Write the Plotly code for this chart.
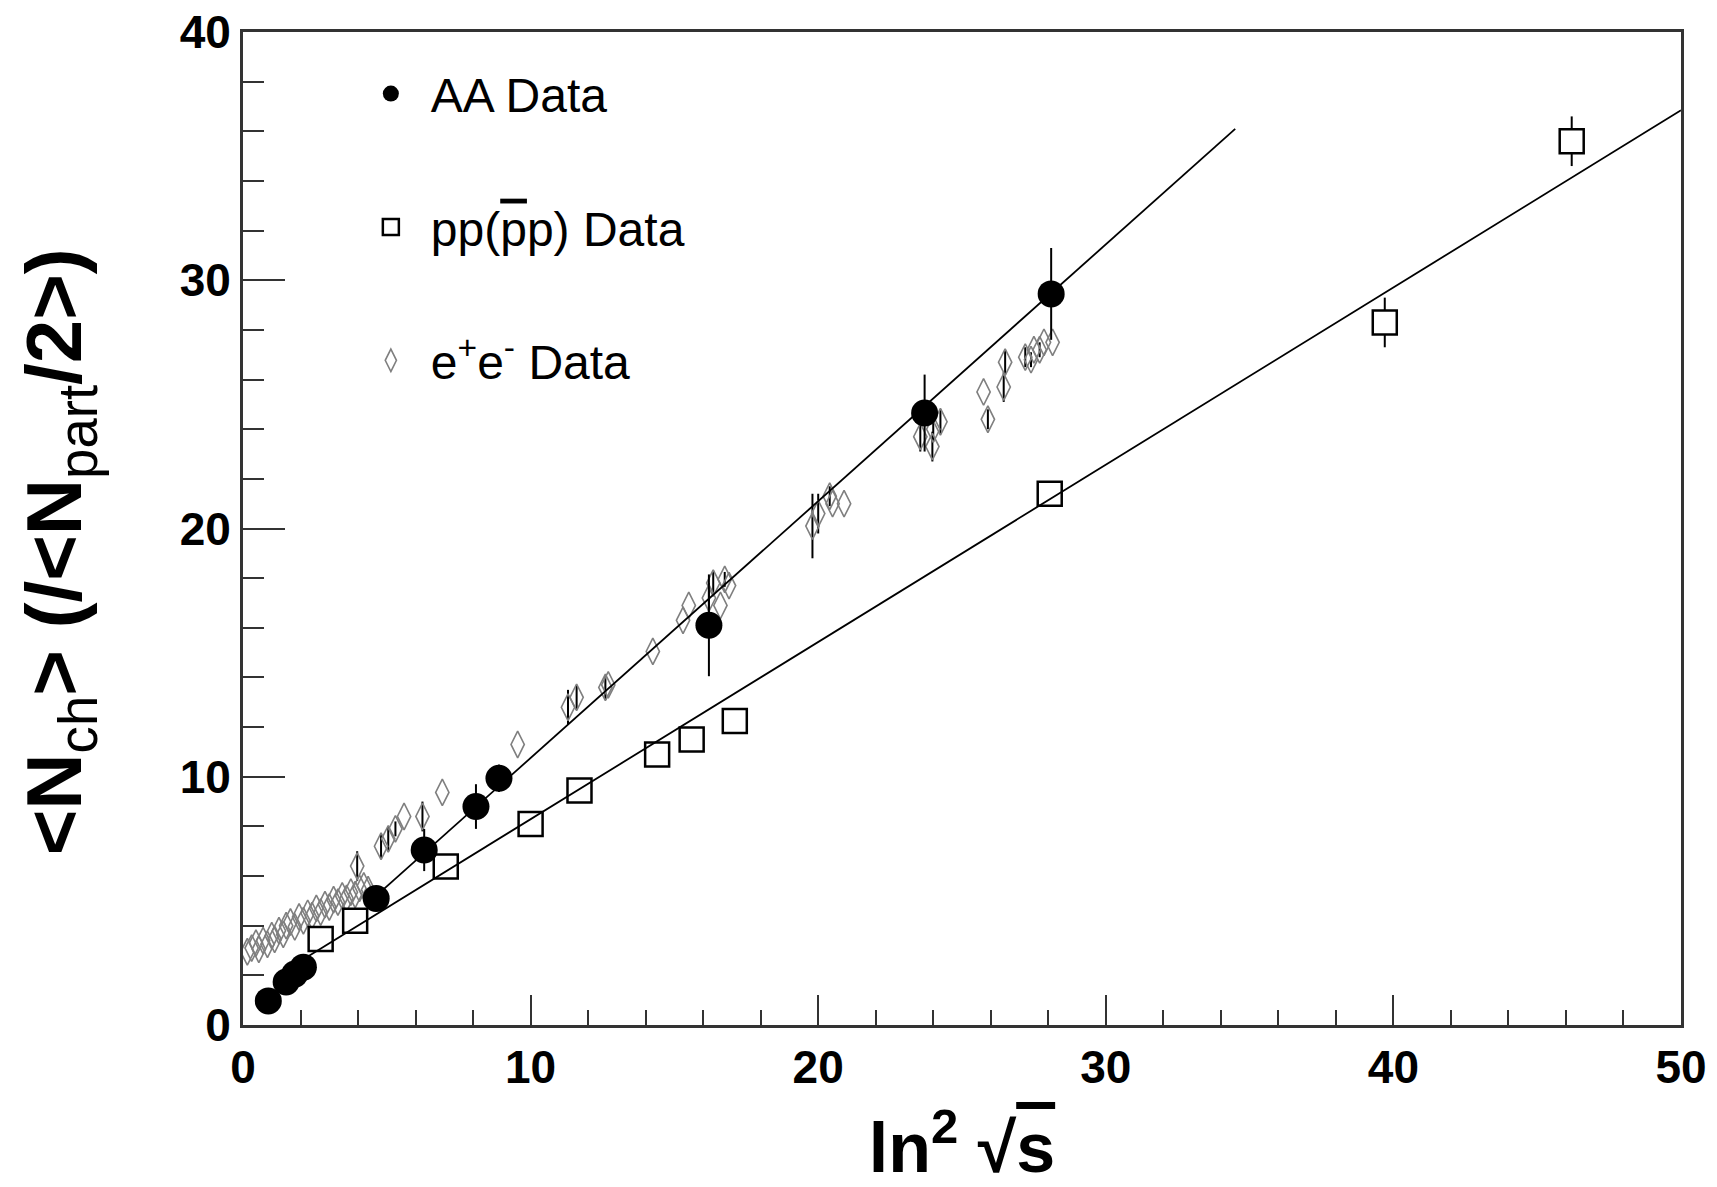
import plotly.graph_objects as go

# ---- AA data ----
aa_x = [0.88, 1.5, 1.8, 2.1, 4.63, 6.3, 8.1, 8.9, 16.2, 23.7, 28.1]
aa_y = [0.97, 1.73, 2.05, 2.33, 5.1, 7.05, 8.8, 9.94, 16.1, 24.65, 29.45]
aa_err = [0.0, 0.0, 0.0, 0.0, 0.3, 0.85, 0.9, 0.55, 2.05, 1.55, 1.85]

# ---- pp(ppbar) data ----
pp_x = [2.7, 3.9, 7.05, 10.0, 11.7, 14.4, 15.6, 17.1, 28.05, 39.7, 46.2]
pp_y = [3.46, 4.2, 6.38, 8.1, 9.45, 10.9, 11.5, 12.25, 21.4, 28.3, 35.6]
pp_err = [0.0, 0.0, 0.0, 0.0, 0.0, 0.0, 0.0, 0.0, 0.0, 1.0, 1.0]

# ---- e+e- data ----
ee_x = [0.15, 0.3, 0.45, 0.55, 0.7, 0.85, 1.0, 1.1, 1.25, 1.4, 1.5, 1.65, 1.8, 1.95,
        2.1, 2.25, 2.4, 2.55, 2.7, 2.85, 3.0, 3.15, 3.3, 3.45, 3.6, 3.75, 3.9, 4.05,
        4.2, 4.35, 3.97, 4.8, 5.05, 5.3, 5.6, 6.24, 6.93, 9.55, 11.3, 11.6, 12.6, 12.7,
        14.25, 15.3, 15.5, 16.2, 16.35, 16.6, 16.75, 16.9, 19.8, 20.0, 20.4, 20.5, 20.9,
        23.55, 23.97, 24.0, 24.25, 25.75, 25.9, 26.45, 26.5, 27.2, 27.4, 27.5, 27.7,
        27.85, 28.15]
ee_y = [2.95, 3.1, 3.3, 3.05, 3.4, 3.25, 3.6, 3.45, 3.8, 3.65, 4.0, 4.15, 3.95, 4.35,
        4.2, 4.5, 4.4, 4.7, 4.55, 4.85, 4.75, 5.05, 4.95, 5.2, 5.1, 5.35, 5.25, 5.5,
        5.6, 5.45, 6.4, 7.2, 7.5, 7.9, 8.4, 8.4, 9.37, 11.3, 12.8, 13.2, 13.6, 13.7,
        15.05, 16.3, 16.9, 17.2, 17.8, 16.9, 17.95, 17.7, 20.1, 20.6, 21.3, 21.0, 21.0,
        23.7, 23.3, 24.0, 24.3, 25.5, 24.4, 25.7, 26.7, 26.9, 26.8, 27.2, 27.2,
        27.5, 27.5]
ee_err = [0.0] * 30 + [0.6, 0.5, 0.5, 0.3, 0.0, 0.6, 0.0, 0.0, 0.7, 0.5, 0.5, 0.0,
        0.0, 0.0, 0.0, 0.6, 0.5, 0.0, 0.3, 0.0, 1.3, 0.8, 0.4, 0.0, 0.0,
        0.6, 0.6, 0.5, 0.5, 0.0, 0.4, 0.6, 0.5, 0.4, 0.3, 0.0, 0.3,
        0.0, 0.0]

# ---- linear fits ----
aa_fit_x = [4.6, 34.5]
aa_fit_y = [5.17, 36.1]
pp_fit_x = [2.2, 50.0]
pp_fit_y = [2.72, 36.85]

# ---- axis ticks ----
x_ticks = [0, 10, 20, 30, 40, 50]
y_ticks = [0, 10, 20, 30, 40]

FONT = "Liberation Sans, Arial, Helvetica, sans-serif"
AX = "#333333"

fig = go.Figure()

fig.add_trace(go.Scatter(
    x=ee_x, y=ee_y, mode="markers", name="e<sup>+</sup>e<sup>-</sup> Data",
    legendgroup="c", legendrank=3,
    error_y=dict(type="data", array=ee_err, color="black", thickness=2, width=0),
    marker=dict(symbol="diamond-tall-open", size=19, color="#7f7f7f",
                line=dict(width=1.6, color="#7f7f7f")),
))
fig.add_trace(go.Scatter(
    x=pp_x, y=pp_y, mode="markers",
    name="pp(<span style='text-decoration:overline'>p</span>p) Data",
    legendgroup="b", legendrank=2,
    error_y=dict(type="data", array=pp_err, color="black", thickness=2, width=0),
    marker=dict(symbol="square", size=24, color="white",
                line=dict(width=2.5, color="black")),
))
fig.add_trace(go.Scatter(
    x=aa_x, y=aa_y, mode="markers", name="AA Data",
    legendgroup="a", legendrank=1,
    error_y=dict(type="data", array=aa_err, color="black", thickness=2, width=0),
    marker=dict(symbol="circle", size=27, color="black", line=dict(width=0)),
))
fig.add_trace(go.Scatter(
    x=aa_fit_x, y=aa_fit_y, mode="lines", showlegend=False,
    line=dict(color="black", width=1.8),
))
fig.add_trace(go.Scatter(
    x=pp_fit_x, y=pp_fit_y, mode="lines", showlegend=False,
    line=dict(color="black", width=1.8),
))

fig.update_layout(
    width=1717, height=1187,
    margin=dict(l=243, r=36, t=32, b=162),
    paper_bgcolor="white", plot_bgcolor="white",
    font=dict(family=FONT, color="black"),
    showlegend=True,
    legend=dict(
        x=0.075, y=0.976, xanchor="left", yanchor="top",
        bgcolor="rgba(0,0,0,0)", borderwidth=0,
        font=dict(size=48, family=FONT, color="black"),
        tracegroupgap=68, itemwidth=70, itemsizing="trace",
    ),
    annotations=[dict(
        text="&lt;N<sub><span style='font-weight:normal'>ch</span></sub>&gt; "
             "(/&lt;N<sub><span style='font-weight:normal'>part</span></sub>/2&gt;)",
        xref="paper", yref="paper", x=-0.128, y=0.477,
        xanchor="center", yanchor="middle", textangle=-90, showarrow=False,
        font=dict(size=78, family=FONT, weight="bold", color="black"),
    )],
)

fig.update_xaxes(
    range=[0, 50], tickvals=x_ticks, ticktext=[str(v) for v in x_ticks],
    ticks="inside", ticklen=30, tickwidth=2, tickcolor=AX,
    minor=dict(ticks="inside", ticklen=15, tickwidth=2, tickcolor=AX, dtick=2, tick0=0),
    showline=True, linewidth=3, linecolor=AX, mirror=True,
    showgrid=False, zeroline=False, automargin=False,
    tickfont=dict(size=46, family=FONT, weight="bold", color="black"),
    title=dict(text="ln<sup>2</sup> √<span style='text-decoration:overline'>s</span>",
               font=dict(size=70, family=FONT, weight="bold", color="black"),
               standoff=58),
)
fig.update_yaxes(
    range=[0, 40], tickvals=y_ticks, ticktext=[str(v) for v in y_ticks],
    ticks="inside", ticklen=42, tickwidth=2, tickcolor=AX,
    minor=dict(ticks="inside", ticklen=21, tickwidth=2, tickcolor=AX, dtick=2, tick0=0),
    showline=True, linewidth=3, linecolor=AX, mirror=True,
    showgrid=False, zeroline=False, automargin=False,
    tickfont=dict(size=46, family=FONT, weight="bold", color="black"),
)

fig.write_html("out.html")
